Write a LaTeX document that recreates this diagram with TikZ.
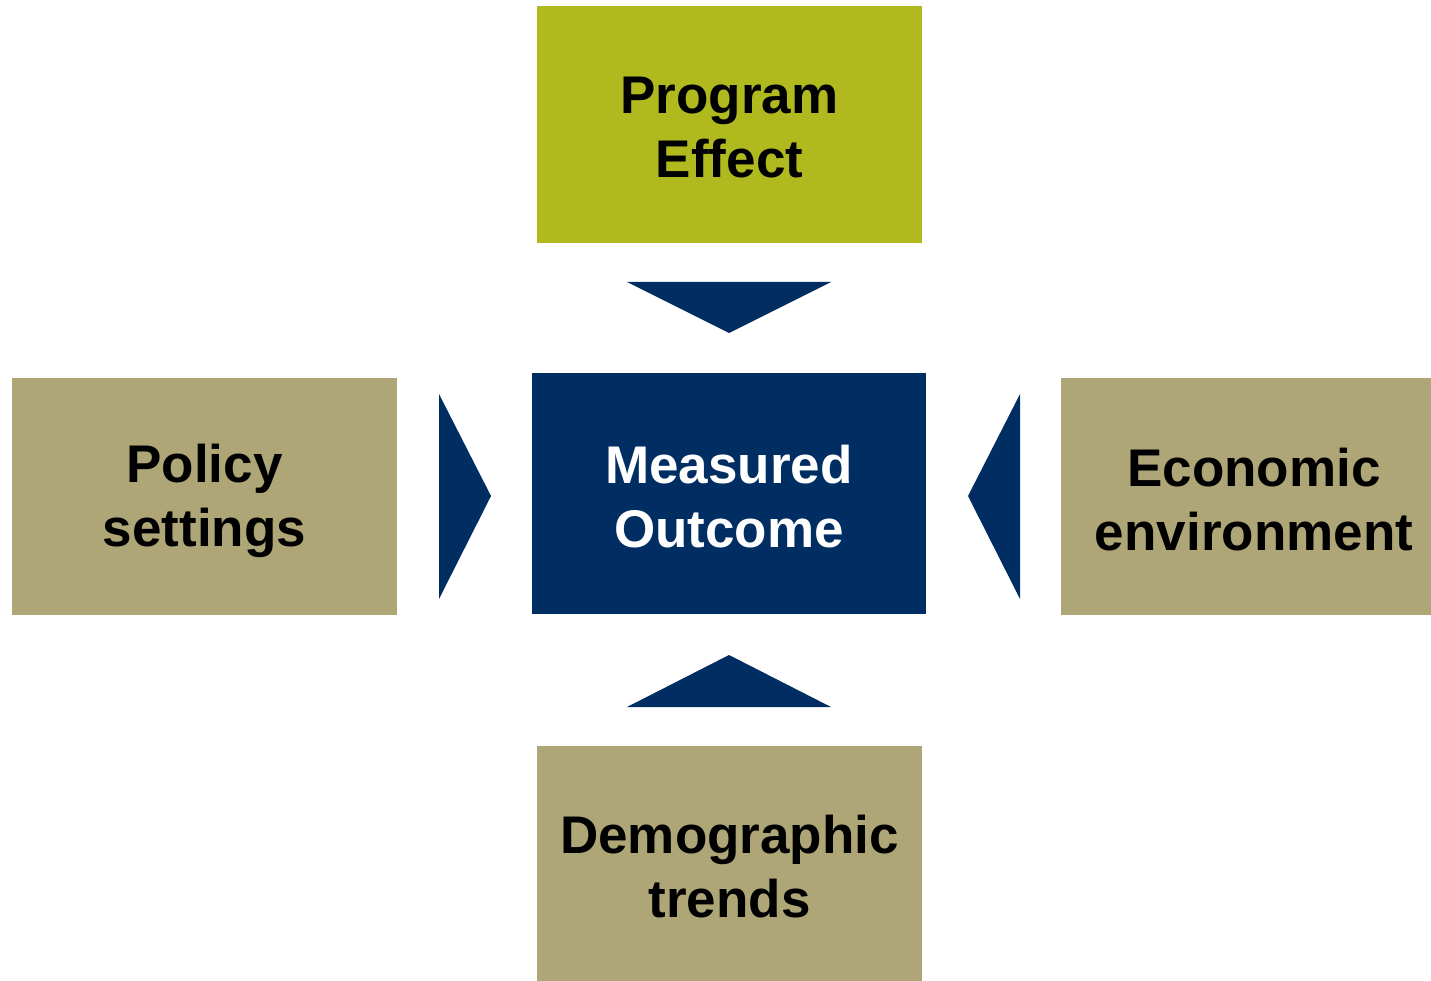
\documentclass[tikz,border=0pt]{standalone}
\usepackage{fontspec}
\setmainfont{Liberation Sans}
\definecolor{olive}{HTML}{B0BA1E}
\definecolor{tan}{HTML}{AFA677}
\definecolor{navy}{HTML}{002D62}
\begin{document}
\begin{tikzpicture}[x=1pt,y=-1pt,
  boxbase/.style={rectangle, inner sep=0pt},
  tanbox/.style={boxbase, fill=tan},
  lbl/.style={inner sep=0pt, align=center, text=black,
    font=\fontsize{53}{64}\selectfont\bfseries},
  tri/.style={fill=navy}]
\useasboundingbox (0,0) rectangle (1431,981);
\node[boxbase, fill=olive, minimum width=385pt, minimum height=237pt] (prog) at (729.5,124.5) {};
\node[boxbase, fill=navy, minimum width=394pt, minimum height=241pt] (meas) at (729,493.5) {};
\node[tanbox, minimum width=385pt, minimum height=237pt] (pol) at (204.5,496.5) {};
\node[tanbox, minimum width=370pt, minimum height=237pt] (eco) at (1246,496.5) {};
\node[tanbox, minimum width=385pt, minimum height=235pt] (dem) at (729.5,863.5) {};
\node[lbl] (progt) at ([yshift=-3pt]prog.center) {Program\\Effect};
\node[lbl, text=white] (meast) at ([yshift=-3pt]meas.center) {Measured\\Outcome};
\node[lbl] (polt) at ([yshift=-4pt]pol.center) {Policy\\settings};
\node[lbl] (ecot) at ([xshift=8pt,yshift=-3pt]eco.center) {Economic\\environment};
\node[lbl] (demt) at ([yshift=-3pt]dem.center) {Demographic\\trends};
\fill[tri] (627,282) -- (831,282) -- (729,333) -- cycle;
\fill[tri] (627,707) -- (831,707) -- (729,655) -- cycle;
\fill[tri] (439,394) -- (491,496) -- (439,599) -- cycle;
\fill[tri] (1020,394) -- (968,496) -- (1020,599) -- cycle;
\end{tikzpicture}
\end{document}
